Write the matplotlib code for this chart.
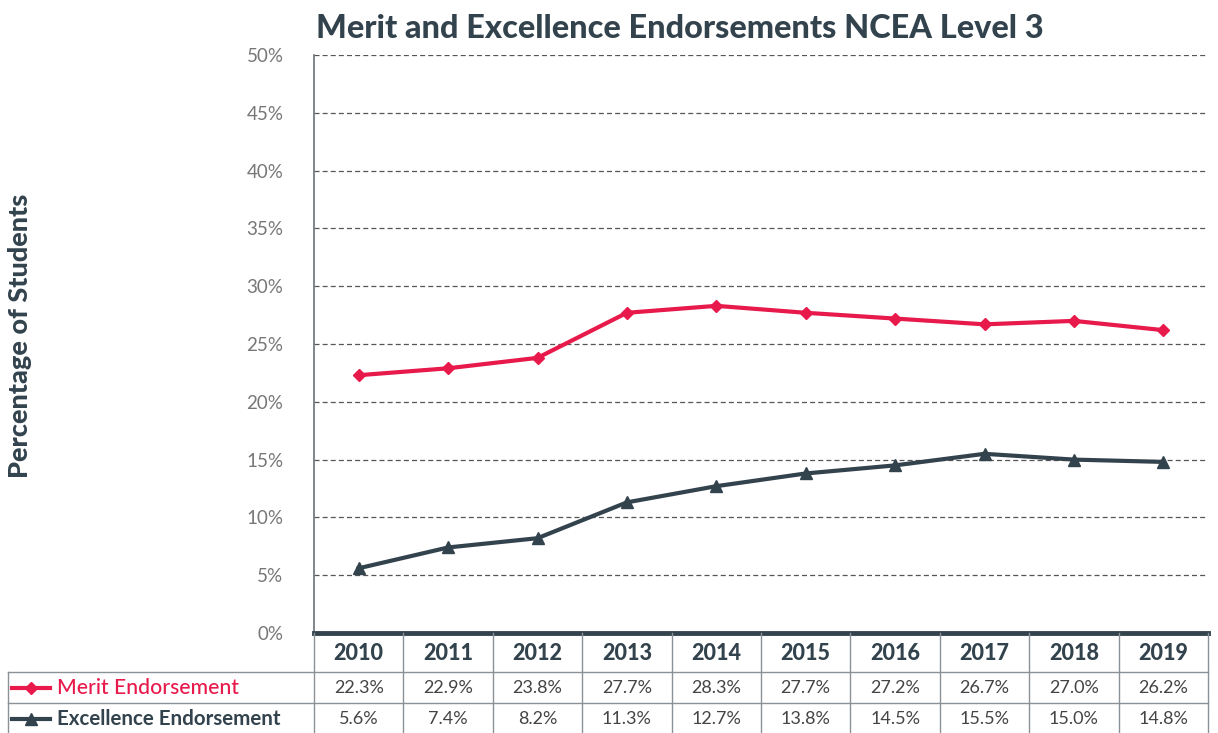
import matplotlib
matplotlib.use("Agg")
import matplotlib.pyplot as plt

years = ["2010", "2011", "2012", "2013", "2014", "2015", "2016", "2017", "2018", "2019"]
merit = [22.3, 22.9, 23.8, 27.7, 28.3, 27.7, 27.2, 26.7, 27.0, 26.2]
excellence = [5.6, 7.4, 8.2, 11.3, 12.7, 13.8, 14.5, 15.5, 15.0, 14.8]
series_names = ["Merit Endorsement", "Excellence Endorsement"]

RED = "#E8194B"
DARK = "#33434D"
GREY = "#777777"
plt.rcParams["font.family"] = ["Lato", "DejaVu Sans"]

W, H = 1218, 733
fig = plt.figure(figsize=(W / 100, H / 100), dpi=100)

# plot area in pixels
x0, x1 = 314, 1208
y_top, y_bot = 55, 633
ax = fig.add_axes([x0 / W, 1 - y_bot / H, (x1 - x0) / W, (y_bot - y_top) / H])
xs = range(len(years))
ax.plot(xs, merit, color=RED, lw=3, marker="D", ms=6.5, zorder=3)
ax.plot(xs, excellence, color=DARK, lw=3, marker="^", ms=9, zorder=3)
ax.set_xlim(-0.5, len(years) - 0.5)
ax.set_ylim(0, 50)
ax.set_yticks(range(0, 51, 5))
ax.set_yticklabels([f"{v}%" for v in range(0, 51, 5)], color=GREY, fontsize=13.5)
ax.tick_params(axis="y", length=0, pad=22)
ax.set_xticks([])
for v in range(5, 51, 5):
    ax.axhline(v, color="#555555", lw=0.9, ls=(0, (4, 2.5)), zorder=1)
for s in ["top", "right", "bottom"]:
    ax.spines[s].set_visible(False)
ax.spines["left"].set_color("#6b7378")
ax.spines["left"].set_linewidth(1.2)

fig.text(316 / W, 1 - 28 / H, "Merit and Excellence Endorsements NCEA Level 3",
         fontsize=23.3, fontweight="black", color=DARK, va="center", ha="left")
fig.text(20 / W, 1 - 336 / H, "Percentage of Students", rotation=90,
         fontsize=19.5, fontweight="black", color=DARK, va="center", ha="center")

# data table below the plot
tab = fig.add_axes([x0 / W, 0, (x1 - x0) / W, (H - y_bot) / H])
tab.set_xlim(-0.5, len(years) - 0.5)
tab.set_ylim(H - y_bot, 0)
tab.axis("off")
col_w = (x1 - x0) / len(years)
left = -0.5 - (x0 - 8) / col_w
rows = [0, 39, 70, 100]
tab.plot([-0.5, len(years) - 0.5], [0, 0], color=DARK, lw=3.5, clip_on=False)
for y in rows[1:3]:
    tab.plot([left, len(years) - 0.5], [y, y], color="#8a9297", lw=1, clip_on=False)
tab.plot([left, left], [rows[1], rows[3]], color="#8a9297", lw=1, clip_on=False)
for i in range(len(years) + 1):
    tab.plot([i - 0.5, i - 0.5], [0, 100], color="#8a9297", lw=1, clip_on=False)
for i, yr in enumerate(years):
    tab.text(i, 20, yr, ha="center", va="center", fontsize=15.5, fontweight="black", color=DARK)
    tab.text(i, 55, f"{merit[i]:.1f}%", ha="center", va="center", fontsize=13, color="#444444")
    tab.text(i, 86, f"{excellence[i]:.1f}%", ha="center", va="center", fontsize=13, color="#444444")

lx = left + 0.05
tab.plot([lx, lx + 0.42], [55, 55], color=RED, lw=3, clip_on=False)
tab.plot([lx + 0.21], [55], color=RED, marker="D", ms=6, clip_on=False)
tab.plot([lx, lx + 0.42], [86, 86], color=DARK, lw=3, clip_on=False)
tab.plot([lx + 0.21], [86], color=DARK, marker="^", ms=8, clip_on=False)
tab.text(lx + 0.5, 55, series_names[0], ha="left", va="center", fontsize=15.2,
         fontweight="medium", color=RED)
tab.text(lx + 0.5, 86, series_names[1], ha="left", va="center", fontsize=14.8,
         fontweight="bold", color=DARK)

fig.savefig("out.png", dpi=100)
